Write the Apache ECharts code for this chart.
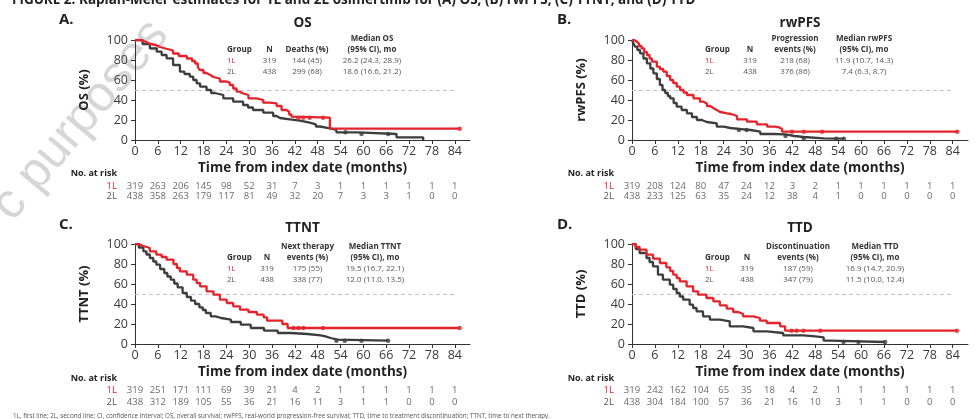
<!DOCTYPE html>
<html><head><meta charset="utf-8">
<script src="https://cdn.jsdelivr.net/npm/echarts@6/dist/echarts.min.js"></script>
<style>html,body{margin:0;padding:0;background:#fff}#c{width:977px;height:419px}</style>
</head><body><div id="c"></div>
<script>
// ---------- DATA ----------
const months = [0,6,12,18,24,30,36,42,48,54,60,66,72,78,84];

// OS
const os1L = [[0,100],[1.5,98],[3,96],[4,95],[5.5,93],[6.6,91.5],[8,89.5],[10,86.5],[11.5,84],[13.6,81.5],[15,79],[15.8,76.5],[16.5,73],[17,70],[18,67],[18.8,65],[19.8,63],[20.6,61.5],[22.3,58.5],[24,57.3],[24.9,55],[25.8,51.5],[26.7,48.3],[27.5,46.5],[28.4,45],[29.8,41.7],[31.9,40],[33.7,37.3],[35.4,36.7],[37.2,34],[38.5,30],[39.8,28.3],[40.5,25.5],[41.1,23.3],[41.5,22.3],[51.2,11.3],[85.3,11.3]];
const os2L = [[0,100],[2,96],[3.9,91.7],[5.7,88.3],[7,85],[8.3,81.7],[10,75],[11.8,68.3],[13,66],[14.4,63.3],[15.3,60],[16.2,56.7],[17.1,53.3],[18.8,50],[20,47],[21,45],[23.2,41.7],[25.8,38.3],[28.4,35],[29.7,32.5],[31,30],[33.7,27.3],[36.3,24],[37.2,22],[38.1,20.7],[40.7,19.3],[43.3,17.3],[45.9,15.7],[47.5,13.5],[48.6,11.7],[51.2,10],[52.9,7.7],[58.5,6],[68.7,2.7],[75.7,0]];
const os1LCens = [[42.9,22.3],[44.2,22.3],[45.9,22.3],[49.4,22.3],[85.3,11.3]];
const os2LCens = [[55.3,7.7],[59.5,6],[66.5,6]];
const osRisk1L = [319,263,206,145,98,52,31,7,3,1,1,1,1,1,1];
const osRisk2L = [438,358,263,179,117,81,49,32,20,7,3,3,1,0,0];
const osTable = [['','','','Median OS'],['Group','N','Deaths (%)','(95% CI), mo'],['1L','319','144 (45)','26.2 (24.3, 28.9)'],['2L','438','299 (68)','18.6 (16.6, 21.2)']];

// rwPFS
const pfs1L = [[0,100],[0.6,98.5],[1.2,96.7],[1.8,94],[2.5,91.7],[3.2,88],[3.9,85],[4.6,81.5],[5.2,78.3],[6.5,73.3],[7.3,71],[8.2,68.3],[9.1,64],[10,60],[10.8,57],[11.7,53.3],[12.6,50],[13.5,47.5],[14.4,45],[16.1,41.7],[17.8,38.3],[18.7,36.5],[19.6,34],[20.5,32],[21.3,30],[22.2,28],[23.1,26.7],[24.9,26],[26,24],[27.5,20.7],[30.1,18.3],[32.7,15.7],[35.4,13.3],[37.5,12.7],[38.5,11],[39.3,8.3],[85.2,8.3]];
const pfs2L = [[0,100],[0.4,96.5],[0.8,93.3],[1.4,90],[2.1,86.7],[3,81.5],[3.9,76.7],[4.8,71.5],[5.6,66.7],[6.5,61],[7.3,55],[8,50],[8.7,47],[9.4,44],[10,41.7],[10.9,37],[11.7,33.3],[13,30],[14.4,26.7],[15.7,23],[17,20],[18.3,18],[19.6,16.7],[22.2,13.3],[24,12],[25.7,10.7],[29.2,10],[31,8.3],[33.6,6],[37.1,5.7],[40.2,4],[42.5,3],[45,1.7],[50.2,1.3],[55.5,1.3]];
const pfs1LCens = [[41.9,8.3],[45,8.3],[49.8,8.3],[85.2,8.3]];
const pfs2LCens = [[28,10],[30,10],[40.2,4],[45,1.7],[53.5,1.3],[55.5,1.3]];
const pfsRisk1L = [319,208,124,80,47,24,12,3,2,1,1,1,1,1,1];
const pfsRisk2L = [438,233,125,63,35,24,12,38,4,1,0,0,0,0,0];
const pfsTable = [['','','Progression','Median rwPFS'],['Group','N','events (%)','(95% CI), mo'],['1L','319','218 (68)','11.9 (10.7, 14.3)'],['2L','438','376 (86)','7.4 (6.3, 8.7)']];

// TTNT
const ttnt1L = [[0,100],[1,98],[2.2,96],[3.9,92.7],[5.6,89.3],[7,87],[8.3,84.3],[10.1,80],[11,76],[11.8,72.7],[13.6,69.3],[15.3,64.3],[16.2,61],[17.1,57.7],[18.8,52.7],[20.6,49.3],[22.3,44.3],[24.1,41],[25.8,37.7],[27.6,34.3],[29.8,32],[32,29.3],[33.8,26.7],[34.7,23.3],[38.7,20],[40.1,16],[85.3,16]];
const ttnt2L = [[0,100],[1,96.5],[2.2,92.7],[3,89.5],[3.9,86],[4.8,82.5],[5.6,79.3],[6.6,75],[7.7,71],[8.5,67.5],[9.4,64.3],[10.3,60.5],[11.2,56.7],[12.5,51],[13.6,47],[14.7,43.3],[15.8,40],[16.9,36.7],[17.8,34],[18.6,31],[19.9,27.7],[21.2,26],[22.6,24.3],[25.2,22],[27.8,19.3],[30.4,16],[33.9,13.3],[37.5,11],[40.9,10],[45.3,8.7],[48.8,7.7],[50,6],[51.4,4.3],[53.2,3.3],[66.5,3.3]];
const ttnt1LCens = [[41.6,16],[42.9,16],[44.2,16],[49.4,16],[85.3,16]];
const ttnt2LCens = [[52.9,3.3],[55.1,3.3],[59.5,3.3],[66.5,3.3]];
const ttntRisk1L = [319,251,171,111,69,39,21,4,2,1,1,1,1,1,1];
const ttntRisk2L = [438,312,189,105,55,36,21,16,11,3,1,1,0,0,0];
const ttntTable = [['','','Next therapy','Median TTNT'],['Group','N','events (%)','(95% CI), mo'],['1L','319','175 (55)','19.5 (16.7, 22.1)'],['2L','438','338 (77)','12.0 (11.0, 13.5)']];

// TTD
const ttd1L = [[0,100],[1,97],[2,94.3],[3.8,89.3],[5.5,85.3],[7.3,81],[9,76.7],[10,73],[10.8,69.3],[11.7,66],[12.5,62.7],[14.3,57.7],[16,52.7],[17.3,49.3],[19.5,46],[21.3,42.7],[23,38.7],[24.8,35.3],[26.5,32],[27.8,30],[29.1,27.7],[31.8,26],[33.5,23.3],[35.3,21],[38.8,17.7],[40.1,13.3],[85.1,13.3]];
const ttd2L = [[0,100],[1,95],[2,91],[3.8,86],[4.6,82],[5.5,77.7],[6.8,69.3],[8.1,64.3],[9.9,59.3],[10.8,55],[11.7,51],[12.5,47.5],[13.4,44.3],[15.1,39.3],[16,36],[16.9,32.7],[18.6,27.7],[20.4,24.3],[23,22.7],[25.6,17.7],[29.1,16],[31.8,12.7],[35.3,11],[39.6,8.7],[44.9,7.7],[48,6.7],[50.2,3.3],[51.9,2],[66.3,2]];
const ttd1LCens = [[41.8,13.3],[43.1,13.3],[44.9,13.3],[49.3,13.3],[85.1,13.3]];
const ttd2LCens = [[55.4,2],[59.3,2],[66.3,2]];
const ttdRisk1L = [319,242,162,104,65,35,18,4,2,1,1,1,1,1,1];
const ttdRisk2L = [438,304,184,100,57,36,21,16,10,3,1,1,0,0,0];
const ttdTable = [['','','Discontinuation','Median TTD'],['Group','N','events (%)','(95% CI), mo'],['1L','319','187 (59)','16.9 (14.7, 20.9)'],['2L','438','347 (79)','11.5 (10.0, 12.4)']];

const riskGroups = ['1L','2L'];
const figTitle = 'FIGURE 2. Kaplan-Meier estimates for 1L and 2L osimertinib for (A) OS, (B) rwPFS, (C) TTNT, and (D) TTD';
const footnote = '1L, first line; 2L, second line; CI, confidence interval; OS, overall survival; rwPFS, real-world progression-free survival; TTD, time to treatment discontinuation; TTNT, time to next therapy.';

// ---------- LAYOUT ----------
const FONT = '"Open Sans", "Noto Sans", sans-serif';
const RED = '#e4232b', DARK = '#3d3d3d', AX = '#333';
const panels = [
  {c1:os1L,c2:os2L,k1:os1LCens,k2:os2LCens,r1:osRisk1L,r2:osRisk2L,tab:osTable,yname:'OS (%)',title:'OS',letter:'A.',
   left:135,top:40,width:335,riskTop:181,riskH:20,cols:[227,269.5,307,372],rows:[39,50,61,72],lx:59,ly:20,ty:23,nar:173,narX:117},
  {c1:pfs1L,c2:pfs2L,k1:pfs1LCens,k2:pfs2LCens,r1:pfsRisk1L,r2:pfsRisk2L,tab:pfsTable,yname:'rwPFS (%)',title:'rwPFS',letter:'B.',
   left:632,top:40,width:336,riskTop:181,riskH:20,cols:[705,750,795,864],rows:[38.5,50,61,72],lx:557,ly:20,ty:23,nar:173,narX:614},
  {c1:ttnt1L,c2:ttnt2L,k1:ttnt1LCens,k2:ttnt2LCens,r1:ttntRisk1L,r2:ttntRisk2L,tab:ttntTable,yname:'TTNT (%)',title:'TTNT',letter:'C.',
   left:135,top:244,width:335,riskTop:384,riskH:24,cols:[227,267,307.5,375],rows:[247,258,268.5,279.5],lx:59,ly:225,ty:228,nar:378,narX:117},
  {c1:ttd1L,c2:ttd2L,k1:ttd1LCens,k2:ttd2LCens,r1:ttdRisk1L,r2:ttdRisk2L,tab:ttdTable,yname:'TTD (%)',title:'TTD',letter:'D.',
   left:632,top:244,width:336,riskTop:384,riskH:24,cols:[705,747,798,875],rows:[247,258,268.5,279.5],lx:557,ly:225,ty:228,nar:378,narX:614}
];

function txt(x, y, text, font, fill, align, valign) {
  return {type:'text', silent:true, z:10,
    style:{x:x, y:y, text:text, font:font, fill:fill||'#333',
      textAlign:align||'left', align:align||'left', textVerticalAlign:valign||'middle', verticalAlign:valign||'middle'}};
}

const grid = [], xAxis = [], yAxis = [], series = [], graphic = [];

// watermark
graphic.push({type:'text', silent:true, z:0, x:2, y:214, rotation:50*Math.PI/180,
  style:{text:'c purposes', font:'50px "Liberation Sans", sans-serif', fill:'#d6d6d6', textVerticalAlign:'middle', verticalAlign:'middle'}});

graphic.push(txt(12, 0.5, figTitle, 'bold 13.5px ' + FONT, '#222', 'left', 'middle'));
graphic.push(txt(13, 416, footnote, '6.3px ' + FONT, '#555', 'left', 'middle'));

panels.forEach((p, i) => {
  grid.push({left:p.left, top:p.top, width:p.width, height:100});
  grid.push({left:p.left, top:p.riskTop, width:p.width, height:p.riskH});
  const gPlot = 2*i, gRisk = 2*i+1;
  xAxis.push({gridIndex:gPlot, type:'value', min:0, max:88,
    axisLine:{show:true, lineStyle:{color:AX, width:1}},
    axisTick:{show:true, length:4, inside:false, customValues:months, lineStyle:{color:AX}},
    axisLabel:{customValues:months, fontSize:12.5, color:'#3a3a3a', margin:5, fontFamily:FONT},
    splitLine:{show:false},
    name:'Time from index date (months)', nameLocation:'middle', nameGap:21,
    nameTextStyle:{fontSize:13.5, fontWeight:'bold', color:'#222', fontFamily:FONT}});
  yAxis.push({gridIndex:gPlot, type:'value', min:0, max:100, interval:20,
    axisLine:{show:true, lineStyle:{color:AX, width:1}},
    axisTick:{show:true, length:4, lineStyle:{color:AX}},
    axisLabel:{fontSize:12.5, color:'#3a3a3a', margin:7, fontFamily:FONT},
    splitLine:{show:false},
    name:p.yname, nameLocation:'middle', nameGap:44, nameRotate:90,
    nameTextStyle:{fontSize:13, fontWeight:'bold', color:'#222', fontFamily:FONT}});
  xAxis.push({gridIndex:gRisk, type:'value', min:0, max:88, show:false});
  yAxis.push({gridIndex:gRisk, type:'category', data:riskGroups, inverse:true,
    axisLine:{show:false}, axisTick:{show:false}, splitLine:{show:false},
    axisLabel:{interval:0, margin:18, fontSize:9.5, fontFamily:FONT, hideOverlap:false,
      formatter:v => v === '1L' ? '{r|1L}' : '{g|2L}',
      rich:{r:{color:RED, fontSize:9.5, fontFamily:FONT}, g:{color:'#555', fontSize:9.5, fontFamily:FONT}}}});
  const xi = 2*i, yi = 2*i;
  series.push({type:'line', xAxisIndex:xi, yAxisIndex:yi, data:p.c2, step:'end', showSymbol:false, symbol:'none',
    lineStyle:{color:DARK, width:2.3}, z:3, silent:true});
  series.push({type:'line', xAxisIndex:xi, yAxisIndex:yi, data:p.c1, step:'end', showSymbol:false, symbol:'none',
    lineStyle:{color:RED, width:2.3}, z:4, silent:true,
    markLine:{silent:true, symbol:'none', label:{show:false}, z:1,
      lineStyle:{color:'#c4c4c4', type:[4,3], width:1},
      data:[[{coord:[0,50]},{coord:[84,50]}]]}});
  series.push({type:'scatter', xAxisIndex:xi, yAxisIndex:yi, data:p.k2, symbol:'circle', symbolSize:4.5,
    itemStyle:{color:DARK}, z:5, silent:true});
  series.push({type:'scatter', xAxisIndex:xi, yAxisIndex:yi, data:p.k1, symbol:'circle', symbolSize:4.5,
    itemStyle:{color:RED}, z:6, silent:true});
  const riskRow = (arr, cat) => arr.map((v, j) => [months[j], cat, v]);
  [[p.r1, riskGroups[0]],[p.r2, riskGroups[1]]].forEach(([arr, cat]) => {
    series.push({type:'scatter', xAxisIndex:xi+1, yAxisIndex:yi+1, data:riskRow(arr, cat), symbolSize:1,
      itemStyle:{color:'rgba(0,0,0,0)'}, silent:true,
      label:{show:true, position:'inside', formatter:q => String(q.value[2]), fontSize:9.5, color:'#444', fontFamily:FONT}});
  });
  graphic.push(txt(p.lx, p.ly, p.letter, 'bold 15px ' + FONT, '#222'));
  graphic.push(txt(p.left + p.width/2, p.ty, p.title, 'bold 13.5px ' + FONT, '#222', 'center'));
  graphic.push(txt(p.narX, p.nar, 'No. at risk', 'bold 9px ' + FONT, '#222', 'right'));
  p.tab.forEach((row, r) => {
    row.forEach((cell, c) => {
      if (!cell) return;
      const bold = r < 2;
      let fill = bold ? '#333' : '#555';
      if (r === 2 && c === 0) fill = RED;
      graphic.push(txt(p.cols[c], p.rows[r], cell, (bold ? 'bold ' : '') + '8px ' + FONT, fill, c === 0 ? 'left' : 'center'));
    });
  });
});

const chart = echarts.init(document.getElementById('c'), null, {renderer:'canvas'});
chart.setOption({animation:false, backgroundColor:'#fff', textStyle:{fontFamily:FONT},
  grid, xAxis, yAxis, series, graphic});
</script>
</body></html>
